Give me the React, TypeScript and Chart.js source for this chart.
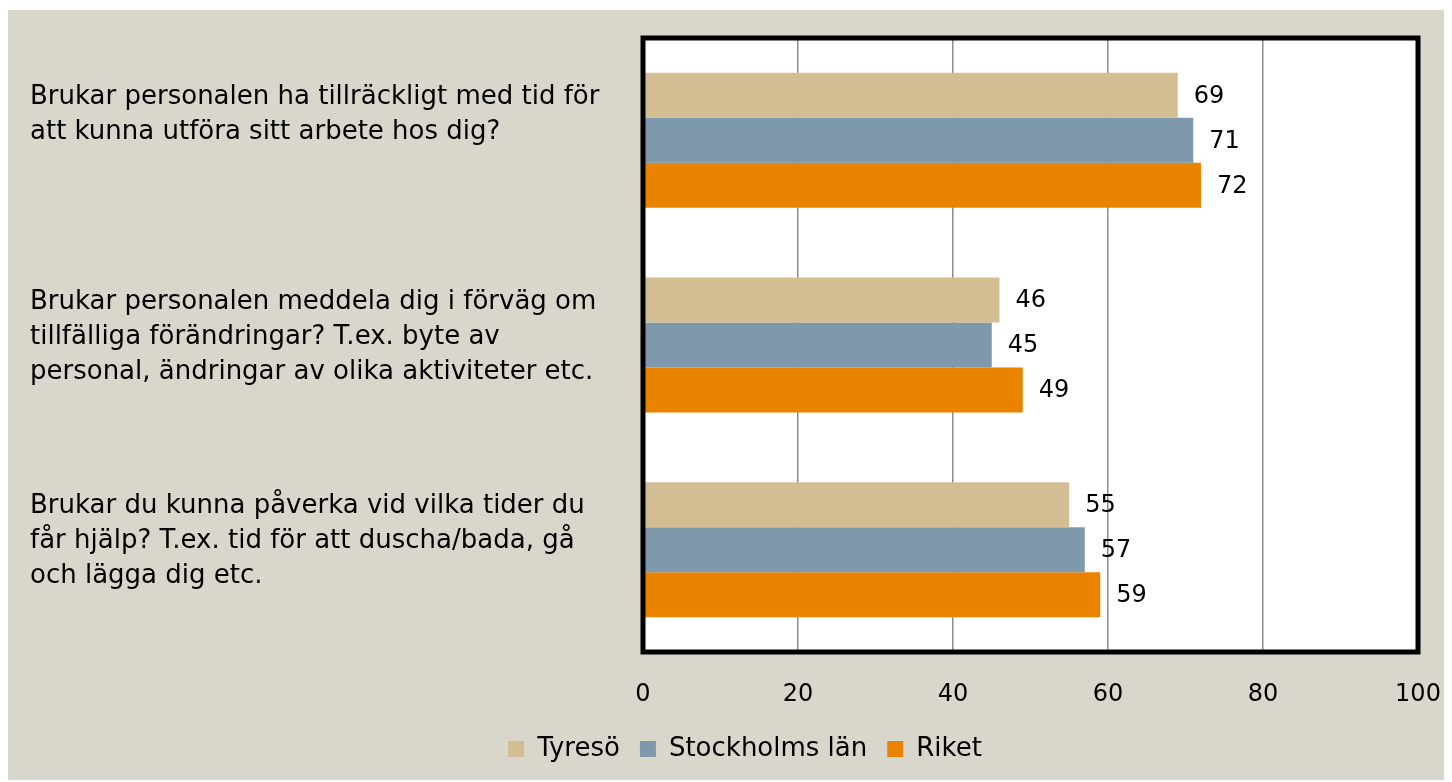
import React, { useEffect, useRef } from "react";
import { Chart, registerables } from "chart.js";

Chart.register(...registerables);

const categories: string[][] = [
  ["Brukar personalen ha tillräckligt med tid för", "att kunna utföra sitt arbete hos dig?", ""],
  ["Brukar personalen meddela dig i förväg om", "tillfälliga förändringar? T.ex. byte av", "personal, ändringar av olika aktiviteter etc."],
  ["Brukar du kunna påverka vid vilka tider du", "får hjälp? T.ex. tid för att duscha/bada, gå", "och lägga dig etc."],
];
const seriesNames = ["Tyresö", "Stockholms län", "Riket"];
const tyresoValues = [69, 46, 55];
const stockholmValues = [71, 45, 57];
const riketValues = [72, 49, 59];
const xMin = 0;
const xMax = 100;
const xStep = 20;

const FONT = "'DejaVu Sans'";

const plotFrame = {
  id: "plotFrame",
  afterLayout(chart: any) {
    if (chart.legend) {
      chart.legend.left += 21;
      chart.legend.right += 21;
    }
  },
  beforeDraw(chart: any) {
    const { ctx, chartArea } = chart;
    ctx.save();
    ctx.fillStyle = "#ffffff";
    ctx.fillRect(chartArea.left, chartArea.top, chartArea.right - chartArea.left, chartArea.bottom - chartArea.top);
    ctx.restore();
  },
  afterDraw(chart: any) {
    const { ctx, chartArea } = chart;
    ctx.save();
    ctx.strokeStyle = "#000000";
    ctx.lineWidth = 5;
    ctx.strokeRect(chartArea.left, chartArea.top, chartArea.right - chartArea.left, chartArea.bottom - chartArea.top);
    ctx.restore();
  },
};

const valueLabels = {
  id: "valueLabels",
  afterDatasetsDraw(chart: any) {
    const { ctx } = chart;
    ctx.save();
    ctx.font = `24px ${FONT}`;
    ctx.fillStyle = "#000000";
    ctx.textAlign = "left";
    ctx.textBaseline = "middle";
    chart.data.datasets.forEach((ds: any, i: number) => {
      const meta = chart.getDatasetMeta(i);
      meta.data.forEach((el: any, j: number) => {
        ctx.fillText(String(ds.data[j]), el.x + 16, el.y + 1);
      });
    });
    ctx.restore();
  },
};

export default function App() {
  const ref = useRef<HTMLCanvasElement | null>(null);
  useEffect(() => {
    if (!ref.current) return;
    const chart = new Chart(ref.current, {
      type: "bar",
      data: {
        labels: categories,
        datasets: [
          { label: seriesNames[0], data: tyresoValues, backgroundColor: "#d3be94" },
          { label: seriesNames[1], data: stockholmValues, backgroundColor: "#7d99ab" },
          { label: seriesNames[2], data: riketValues, backgroundColor: "#e98300" },
        ],
      },
      options: {
        indexAxis: "y",
        responsive: false,
        animation: false,
        maintainAspectRatio: false,
        datasets: { bar: { categoryPercentage: 0.66, barPercentage: 1 } },
        layout: { padding: { left: 22, right: 34, top: 28, bottom: 10 } },
        scales: {
          x: {
            min: xMin,
            max: xMax,
            ticks: { stepSize: xStep, color: "#000", font: { family: FONT, size: 24 }, padding: 28 },
            grid: {
              drawTicks: false,
              color: (c: any) => (c.tick && (c.tick.value === xMin || c.tick.value === xMax) ? "rgba(0,0,0,0)" : "#8c8c8c"),
              lineWidth: 1.5,
            },
            border: { display: false },
            afterFit: (scale: any) => {
              scale.height = 64;
              scale.paddingLeft = 0;
              scale.paddingRight = 0;
            },
          },
          y: {
            ticks: {
              color: "#000",
              crossAlign: "far",
              labelOffset: -8,
              font: { family: FONT, size: 26, lineHeight: 35 / 26 },
            },
            grid: { display: false },
            border: { display: false },
            afterFit: (scale: any) => {
              scale.width = 613;
              scale.paddingTop = 0;
              scale.paddingBottom = 0;
            },
          },
        },
        plugins: {
          legend: {
            position: "bottom",
            labels: {
              color: "#000",
              font: { family: FONT, size: 26 },
              boxWidth: 16,
              boxHeight: 16,
              padding: 20,
            },
          },
          tooltip: { enabled: false },
        },
      },
      plugins: [plotFrame, valueLabels],
    });
    return () => chart.destroy();
  }, []);
  return (
    <div style={{ position: "relative", top: 2, width: 1444, height: 772, background: "#d9d7cb" }}>
      <canvas ref={ref} width={1444} height={772} style={{ display: "block" }} />
    </div>
  );
}
